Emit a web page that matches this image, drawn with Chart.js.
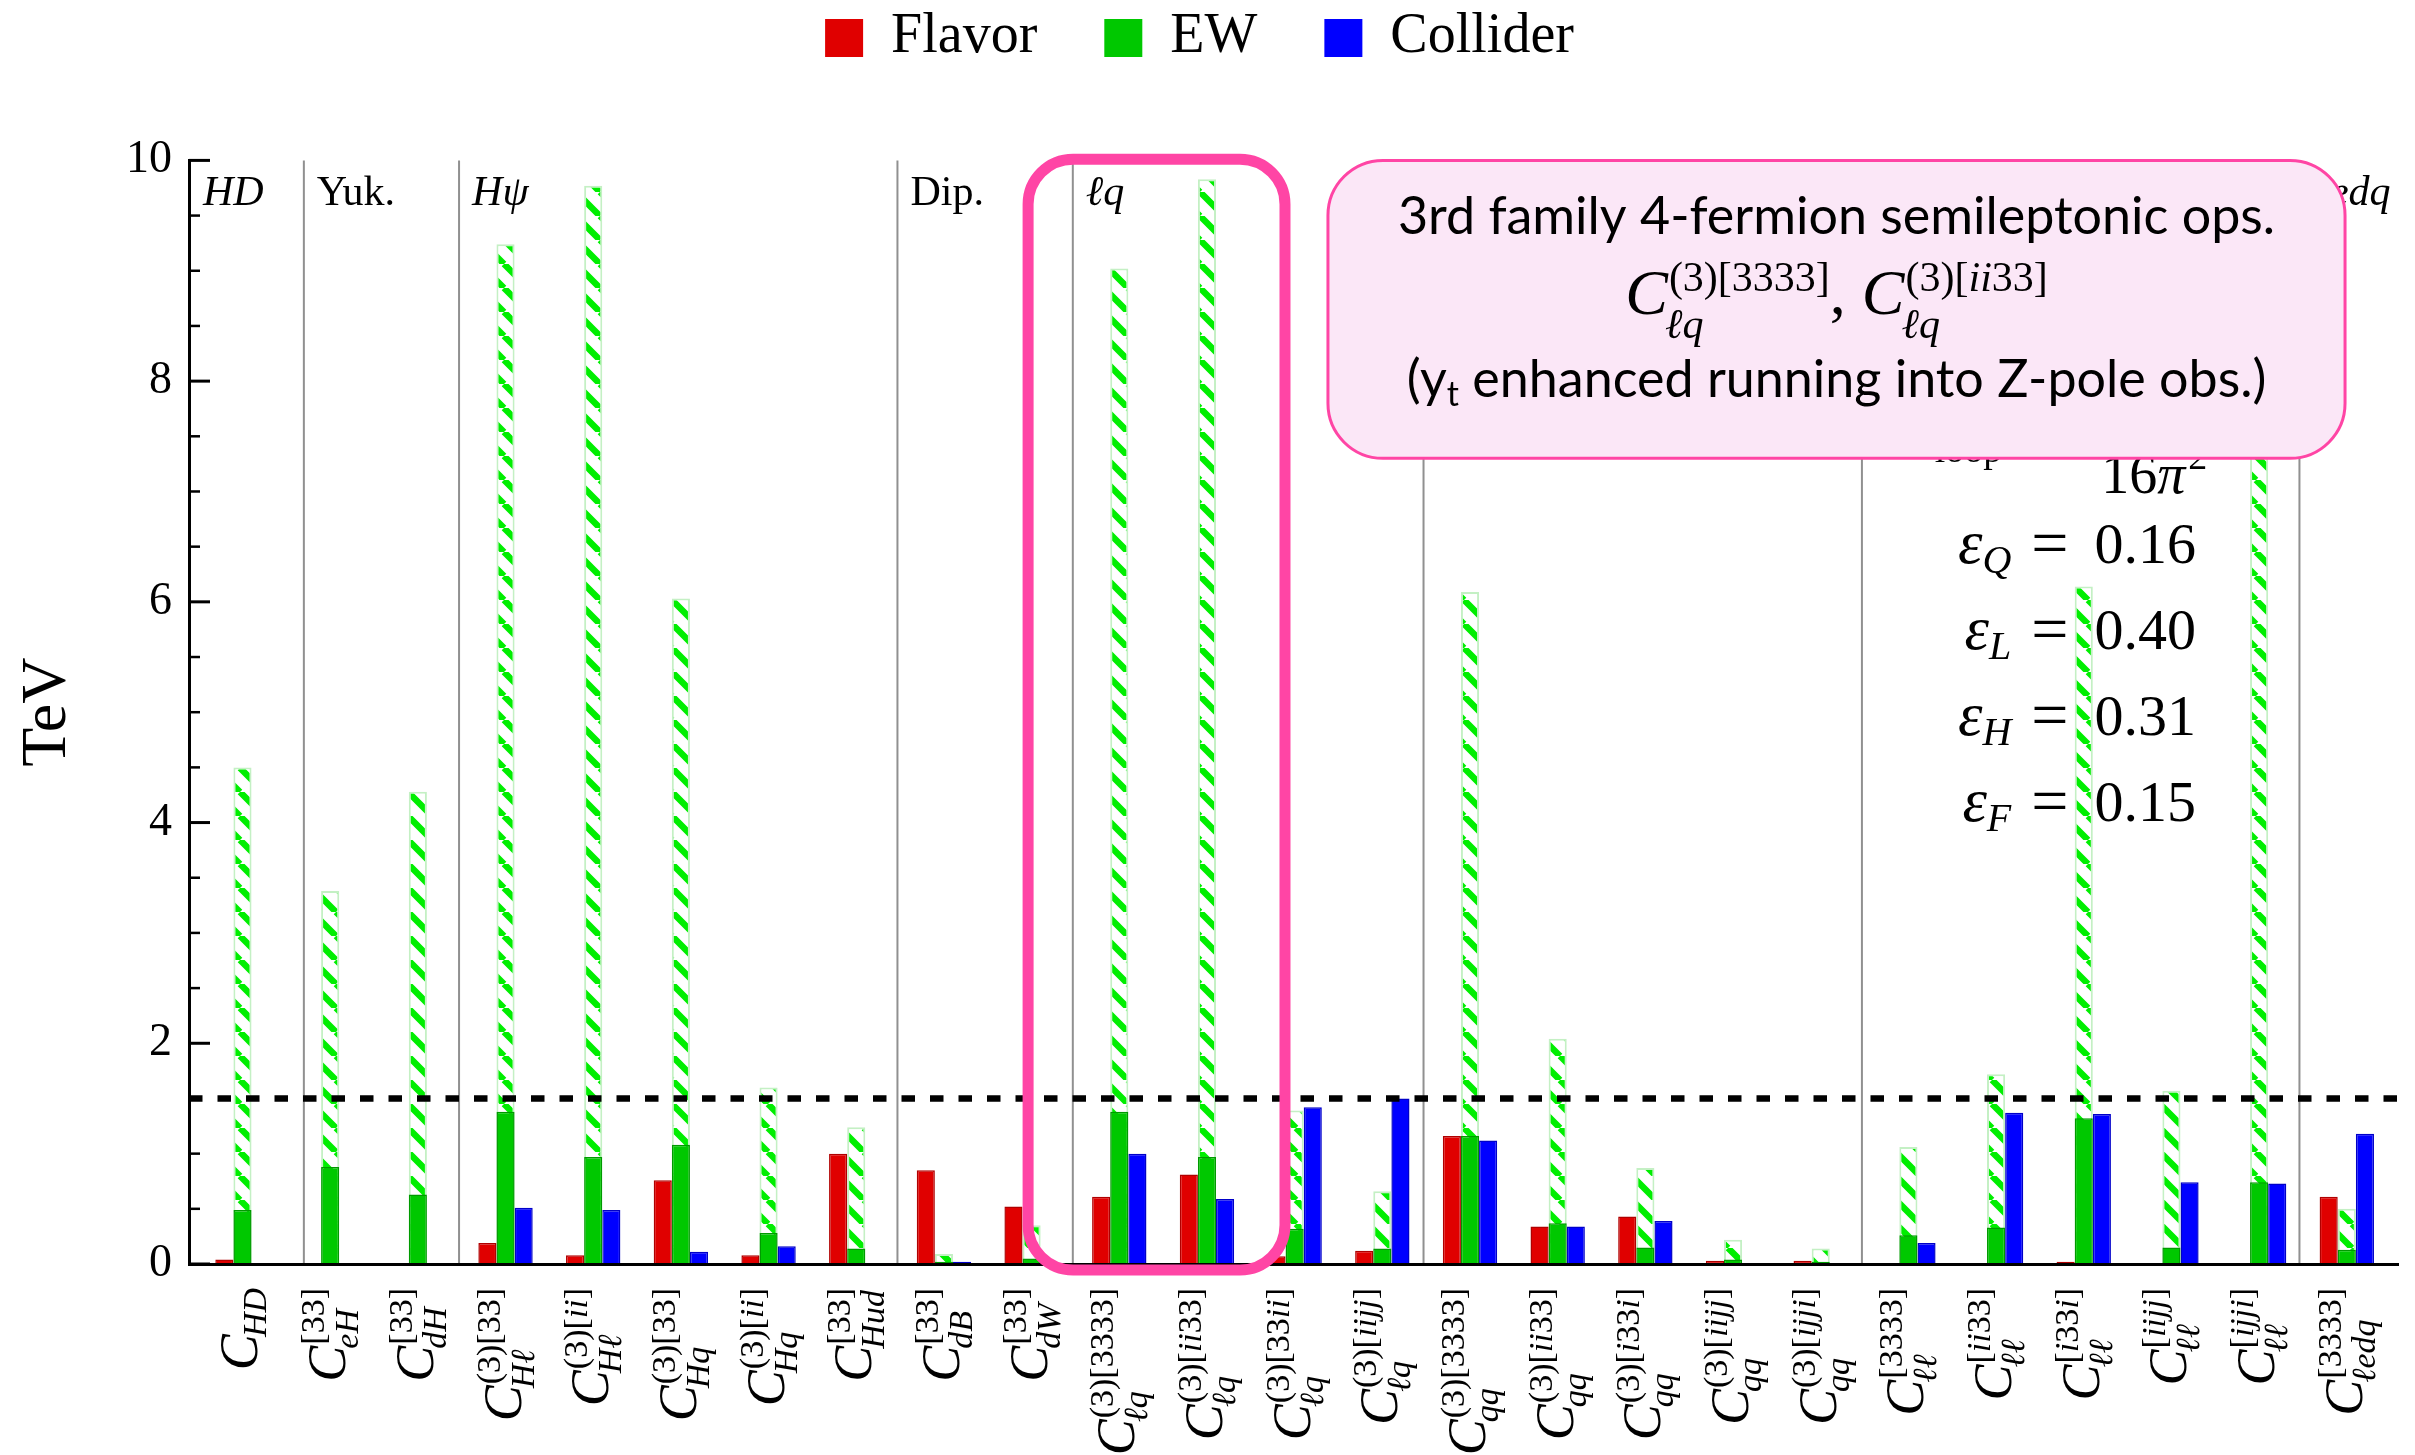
<!DOCTYPE html>
<html>
<head>
<meta charset="utf-8">
<title>Bounds on SMEFT operators</title>
<script src="https://cdn.jsdelivr.net/npm/chart.js@4.4.1/dist/chart.umd.min.js"></script>
<style>
    html, body { margin: 0; padding: 0; background: #fff; }
    canvas { display: block; }
</style>
</head>
<body>
<canvas id="chart" width="2415" height="1455"></canvas>
<script>
// operator C with sub- and superscript, one per group of bars
var subscripts = ['HD', 'eH', 'dH', 'Hℓ', 'Hℓ', 'Hq', 'Hq', 'Hud', 'dB', 'dW',
    'ℓq', 'ℓq', 'ℓq', 'ℓq', 'qq', 'qq', 'qq', 'qq', 'qq',
    'ℓℓ', 'ℓℓ', 'ℓℓ', 'ℓℓ', 'ℓℓ', 'ℓedq'];
var superscripts = ['', '[33]', '[33]', '(3)[33]', '(3)[ii]', '(3)[33]', '(3)[ii]', '[33]', '[33]', '[33]',
    '(3)[3333]', '(3)[ii33]', '(3)[33ii]', '(3)[iijj]',
    '(3)[3333]', '(3)[ii33]', '(3)[i33i]', '(3)[iijj]', '(3)[ijji]',
    '[3333]', '[ii33]', '[i33i]', '[iijj]', '[ijji]', '[3333]'];

// bounds in TeV
var flavor    = [0.04, null, null, 0.19, 0.08, 0.76, 0.08, 1.00, 0.85, 0.52,
                 0.61, 0.81, 0.07, 0.12, 1.16, 0.34, 0.43, 0.03, 0.03,
                 0.01, 0.01, 0.02, 0.005, 0.005, 0.61];
var ewFit     = [0.49, 0.88, 0.63, 1.38, 0.97, 1.08, 0.28, 0.14, 0.02, 0.05,
                 1.38, 0.97, 0.32, 0.14, 1.16, 0.37, 0.15, 0.04, 0.02,
                 0.26, 0.33, 1.32, 0.15, 0.74, 0.13];
var ewRunning = [4.50, 3.38, 4.28, 9.24, 9.77, 6.03, 1.60, 1.24, 0.09, 0.35,
                 9.02, 9.83, 1.39, 0.66, 6.09, 2.04, 0.87, 0.22, 0.14,
                 1.06, 1.72, 6.14, 1.57, 7.80, 0.50];
var collider  = [0.01, null, null, 0.51, 0.49, 0.11, 0.16, null, 0.02, 0.01,
                 1.00, 0.59, 1.42, 1.50, 1.12, 0.34, 0.39, 0.005, null,
                 0.19, 1.37, 1.36, 0.74, 0.73, 1.18];

// operator classes and the dividers between them (in category units)
var sections = ['HD', 'Yuk.', 'Hψ', 'Dip.', 'ℓq', 'qq', 'ℓℓ', 'ℓedq'];
var dividers = [0.70, 2.47, 7.47, 9.47, 13.47, 18.47, 23.46];

var epsNames  = ['Q', 'L', 'H', 'F'];
var epsValues = ['0.16', '0.40', '0.31', '0.15'];

var threshold = 1.5;

var serif = "'Liberation Serif', 'DejaVu Serif', serif";
var pink = '#ff45a5';

Chart.defaults.font.family = serif;
Chart.defaults.color = '#000';

function points(values) {
    return values.map(function(v, i) { return {x: i, y: v}; });
}

function hatch(ctx) {
    var p = 24;
    var c = document.createElement('canvas');
    c.width = p;
    c.height = p;
    var g = c.getContext('2d');
    g.fillStyle = '#fff';
    g.fillRect(0, 0, p, p);
    g.strokeStyle = '#00ee00';
    g.lineWidth = 6.5;
    g.beginPath();
    [-p, 0, p].forEach(function(o) {
        g.moveTo(o, 0);
        g.lineTo(o + p, p);
    });
    g.stroke();
    return ctx.createPattern(c, 'repeat');
}

// letters in italic, digits and brackets upright
function runMath(ctx, str, x, y, size, draw) {
    var w = 0;
    for (var k = 0; k < str.length; k++) {
        var ch = str[k];
        ctx.font = (/[A-Za-zℓψεπ]/.test(ch) ? 'italic ' : '') + size + 'px ' + serif;
        if (draw) ctx.fillText(ch, x + w, y);
        w += ctx.measureText(ch).width;
    }
    return w;
}

function operator(ctx, sub, sup, x0, y0, main, small, drop, rise, draw) {
    ctx.font = 'italic ' + main + 'px ' + serif;
    if (draw) ctx.fillText('C', x0, y0);
    var wc = ctx.measureText('C').width;
    var ws = runMath(ctx, sub, x0 + wc - 3, y0 + drop, small, draw) - 3;
    var wp = sup ? runMath(ctx, sup, x0 + wc + 1, y0 - rise, small, draw) + 1 : 0;
    return wc + Math.max(ws, wp);
}

function roundRect(ctx, x0, y0, x1, y1, r) {
    ctx.beginPath();
    ctx.moveTo(x0 + r, y0);
    ctx.arcTo(x1, y0, x1, y1, r);
    ctx.arcTo(x1, y1, x0, y1, r);
    ctx.arcTo(x0, y1, x0, y0, r);
    ctx.arcTo(x0, y0, x1, y0, r);
    ctx.closePath();
}

function drawLegend(chart) {
    var ctx = chart.ctx;
    var items = chart.data.datasets.filter(function(d) { return d.showInLegend !== false; });
    var box = 38, gap = 28, spacing = 67;
    ctx.font = '56px ' + serif;
    var widths = items.map(function(d) { return box + gap + ctx.measureText(d.label).width; });
    var total = widths.reduce(function(a, b) { return a + b; }, 0) + spacing * (items.length - 1);
    var lx = chart.width / 2 - 8 - total / 2;
    items.forEach(function(d, i) {
        ctx.fillStyle = d.backgroundColor;
        ctx.fillRect(lx, 19, box, box);
        ctx.fillStyle = '#000';
        ctx.fillText(d.label, lx + box + gap, 52);
        lx += widths[i] + spacing;
    });
}

var overlay = {
    id: 'overlay',
    beforeDatasetsDraw: function(chart) {
        var ctx = chart.ctx, area = chart.chartArea, x = chart.scales.x;
        ctx.save();
        ctx.strokeStyle = '#909090';
        ctx.lineWidth = 2;
        dividers.forEach(function(d) {
            var px = x.getPixelForValue(d);
            ctx.beginPath();
            ctx.moveTo(px, area.top);
            ctx.lineTo(px, area.bottom);
            ctx.stroke();
        });
        ctx.fillStyle = '#000';
        sections.forEach(function(name, i) {
            var left = i === 0 ? area.left + 14 : x.getPixelForValue(dividers[i - 1]) + 13;
            if (name.slice(-1) === '.') {
                ctx.font = '42px ' + serif;
                ctx.fillText(name, left, area.top + 45);
            } else {
                runMath(ctx, name, left, area.top + 45, 42, true);
            }
        });
        ctx.restore();
    },
    afterDatasetsDraw: function(chart) {
        var ctx = chart.ctx, area = chart.chartArea;
        var py = chart.scales.y.getPixelForValue(threshold);
        ctx.save();
        ctx.strokeStyle = '#000';
        ctx.lineWidth = 6.5;
        ctx.setLineDash([13.5, 15]);
        ctx.beginPath();
        ctx.moveTo(area.left, py);
        ctx.lineTo(area.right, py);
        ctx.stroke();
        ctx.restore();
    },
    afterDraw: function(chart) {
        var ctx = chart.ctx, area = chart.chartArea, x = chart.scales.x, y = chart.scales.y;
        ctx.save();
        ctx.textAlign = 'left';
        ctx.textBaseline = 'alphabetic';

        // inward ticks on the TeV axis
        ctx.strokeStyle = '#000';
        for (var v = 0; v <= 10; v += 0.5) {
            var py = y.getPixelForValue(v);
            var major = v % 2 === 0;
            ctx.lineWidth = major ? 3 : 2.5;
            ctx.beginPath();
            ctx.moveTo(area.left, py);
            ctx.lineTo(area.left + (major ? 21 : 11), py);
            ctx.stroke();
        }

        // rotated operator names
        ctx.fillStyle = '#000';
        subscripts.forEach(function(sub, i) {
            var sup = superscripts[i];
            var drop = sup ? 13 : 9;
            var len = operator(ctx, sub, sup, 0, 0, 54, 34, drop, 21, false);
            ctx.save();
            ctx.translate(x.getPixelForValue(i) + 15, area.bottom + 24);
            ctx.rotate(-Math.PI / 2);
            operator(ctx, sub, sup, -len, 0, 54, 34, drop, 21, true);
            ctx.restore();
        });

        // loop factor and power counting parameters
        ctx.font = '38px ' + serif;
        ctx.fillText('loop', x.getPixelForValue(19.30), y.getPixelForValue(7.27));
        var fx = x.getPixelForValue(21.20), fy = y.getPixelForValue(6.99);
        ctx.font = '56px ' + serif;
        ctx.fillText('16', fx, fy);
        var w16 = ctx.measureText('16').width;
        ctx.font = 'italic 56px ' + serif;
        ctx.fillText('π', fx + w16, fy);
        var wpi = ctx.measureText('π').width;
        ctx.font = '38px ' + serif;
        ctx.fillText('2', fx + w16 + wpi + 3, fy - 24);

        var right = x.getPixelForValue(22.28), base = y.getPixelForValue(6.35);
        epsNames.forEach(function(n, k) {
            var ly = base + k * 86;
            ctx.font = '58px ' + serif;
            var wv = ctx.measureText(epsValues[k]).width;
            ctx.font = '66px ' + serif;
            var weq = ctx.measureText('=').width;
            ctx.font = 'italic 62px ' + serif;
            var we = ctx.measureText('ε').width;
            ctx.font = 'italic 40px ' + serif;
            var wn = ctx.measureText(n).width;
            var lx = right - (we + wn + 20 + weq + 26 + wv);
            ctx.font = 'italic 62px ' + serif;
            ctx.fillText('ε', lx, ly);
            ctx.font = 'italic 40px ' + serif;
            ctx.fillText(n, lx + we, ly + 10);
            ctx.font = '66px ' + serif;
            ctx.fillText('=', lx + we + wn + 20, ly + 2);
            ctx.font = '58px ' + serif;
            ctx.fillText(epsValues[k], right - wv, ly);
        });

        // highlight around the two semileptonic operators
        roundRect(ctx, x.getPixelForValue(8.96), y.getPixelForValue(10.01),
            x.getPixelForValue(11.89), y.getPixelForValue(-0.054), 45);
        ctx.lineWidth = 11;
        ctx.strokeStyle = pink;
        ctx.stroke();

        // note box
        var bx0 = x.getPixelForValue(12.38), bx1 = x.getPixelForValue(23.98);
        var by0 = y.getPixelForValue(10.0), by1 = y.getPixelForValue(7.30);
        roundRect(ctx, bx0, by0, bx1, by1, 55);
        ctx.fillStyle = '#fbe7f7';
        ctx.fill();
        ctx.lineWidth = 3;
        ctx.strokeStyle = pink;
        ctx.stroke();

        var cx = (bx0 + bx1) / 2;
        ctx.fillStyle = '#000';
        ctx.textAlign = 'center';
        ctx.font = '52px Lato';
        ctx.fillText('3rd family 4-fermion semileptonic ops.', cx, by0 + 74);

        ctx.textAlign = 'left';
        var w1 = operator(ctx, 'ℓq', '(3)[3333]', 0, 0, 64, 42, 24, 23, false);
        ctx.font = '64px ' + serif;
        var wc = ctx.measureText(', ').width;
        var w2 = operator(ctx, 'ℓq', '(3)[ii33]', 0, 0, 64, 42, 24, 23, false);
        var sx = cx - (w1 + wc + w2) / 2, sy = by0 + 154;
        operator(ctx, 'ℓq', '(3)[3333]', sx, sy, 64, 42, 24, 23, true);
        ctx.font = '64px ' + serif;
        ctx.fillText(',', sx + w1, sy);
        operator(ctx, 'ℓq', '(3)[ii33]', sx + w1 + wc, sy, 64, 42, 24, 23, true);

        var a = '(y', b = ' enhanced running into Z-pole obs.)';
        ctx.font = '52px Lato';
        var wa = ctx.measureText(a).width, wb = ctx.measureText(b).width;
        ctx.font = '34px Lato';
        var wt = ctx.measureText('t').width;
        var tx = cx - (wa + wt + wb) / 2, ty = by0 + 237;
        ctx.font = '52px Lato';
        ctx.fillText(a, tx, ty);
        ctx.fillText(b, tx + wa + wt, ty);
        ctx.font = '34px Lato';
        ctx.fillText('t', tx + wa, ty + 9);

        drawLegend(chart);
        ctx.restore();
    }
};

var ctx = document.getElementById('chart').getContext('2d');

var chart = new Chart(ctx, {
    type: 'bar',
    data: {
        datasets: [{
            label: 'Flavor',
            data: points(flavor),
            backgroundColor: '#e00000',
            borderColor: '#b00000',
            borderWidth: 1.5,
            stack: 'flavor'
        }, {
            label: 'EW',
            data: points(ewFit),
            backgroundColor: '#00c800',
            borderColor: '#009a00',
            borderWidth: 1.5,
            stack: 'ew'
        }, {
            label: 'EW running',
            data: points(ewRunning),
            backgroundColor: hatch(ctx),
            borderColor: '#c4f0c4',
            borderWidth: 2,
            stack: 'ew',
            showInLegend: false
        }, {
            label: 'Collider',
            data: points(collider),
            backgroundColor: '#0000ff',
            borderColor: '#0000c8',
            borderWidth: 1.5,
            stack: 'collider'
        }]
    },
    options: {
        responsive: false,
        animation: false,
        devicePixelRatio: 1,
        layout: {
            padding: {top: 160.4, right: 17, bottom: 0, left: 0}
        },
        datasets: {
            bar: {categoryPercentage: 0.62, barPercentage: 1}
        },
        plugins: {
            legend: {display: false},
            tooltip: {enabled: false}
        },
        scales: {
            x: {
                type: 'linear',
                min: -0.61,
                max: 24.584,
                offset: false,
                grid: {display: false},
                ticks: {display: false, includeBounds: false},
                border: {display: true, color: '#000', width: 3, z: 1},
                afterFit: function(scale) { scale.height = 191; }
            },
            y: {
                min: 0,
                max: 10,
                stacked: false,
                grid: {display: false, drawTicks: false},
                border: {display: true, color: '#000', width: 3, z: 1},
                ticks: {stepSize: 2, padding: 17, color: '#000', font: {size: 46}},
                title: {
                    display: true,
                    text: 'TeV',
                    color: '#000',
                    font: {size: 64},
                    padding: {top: 10}
                },
                afterFit: function(scale) { scale.width = 189; }
            }
        }
    },
    plugins: [overlay]
});
</script>
</body>
</html>
